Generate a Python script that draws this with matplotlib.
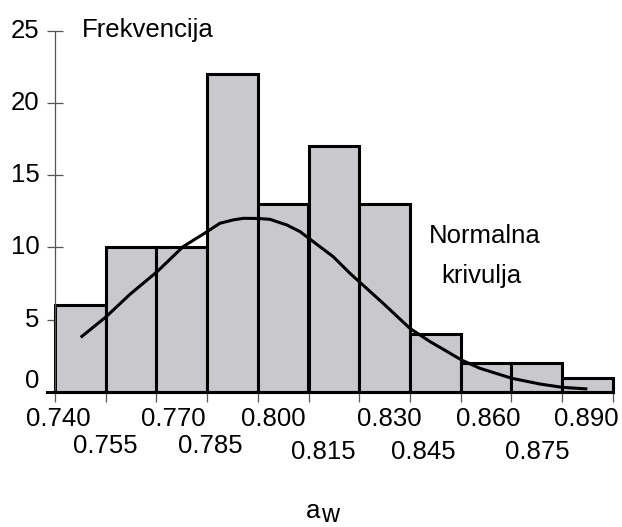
import matplotlib
matplotlib.use("Agg")
import matplotlib.pyplot as plt
import numpy as np

# ---- data ----
bin_edges = [0.740, 0.755, 0.770, 0.785, 0.800, 0.815, 0.830,
             0.845, 0.860, 0.875, 0.890, 0.905]
frequency = [6, 10, 10, 22, 13, 17, 13, 4, 2, 2, 1]

upper_labels = ["0.740", "0.770", "0.800", "0.830", "0.860", "0.890"]
lower_labels = ["0.755", "0.785", "0.815", "0.845", "0.875"]

y_ticks = [0, 5, 10, 15, 20, 25]
y_tick_labels = ["0", "5", "10", "15", "20", "25"]

curve_x = [0.7476, 0.7551, 0.7622, 0.7702, 0.7779, 0.7850, 0.7888, 0.7927,
           0.7957, 0.8002, 0.8036, 0.8086, 0.8125, 0.8164, 0.8223, 0.8273,
           0.8300, 0.8371, 0.8450, 0.8510, 0.8603, 0.8657, 0.8751, 0.8835,
           0.8902, 0.8975]
curve_y = [3.78, 5.2, 6.76, 8.32, 10.05, 11.09, 11.67, 11.9,
           12.01, 12.0, 11.94, 11.55, 11.09, 10.4, 9.36, 8.2,
           7.63, 6.13, 4.4, 3.48, 2.21, 1.64, 0.95, 0.55,
           0.32, 0.21]

# ---- style / layout ----
FONT = "Liberation Sans"
plt.rcParams["font.family"] = [FONT, "DejaVu Sans"]
FS = 18.5
W, H = 622, 527
fig = plt.figure(figsize=(W / 100, H / 100), dpi=100)

left_px, right_px = 47, 620
bottom_px, top_px = 392, 30.5
ax = fig.add_axes([left_px / W, 1 - bottom_px / H,
                   (right_px - left_px) / W, (bottom_px - top_px) / H])

px_per_bin = 50.7
x0 = bin_edges[0] - (55 - left_px) / px_per_bin * 0.015
x1 = bin_edges[0] + (right_px - 55) / px_per_bin * 0.015
ax.set_xlim(x0, x1)
ax.set_ylim(0, 25)

lefts = bin_edges[:-1]
widths = np.diff(bin_edges)
ax.bar(lefts, frequency, width=widths, align="edge", color="#c9c9cd",
       edgecolor="black", linewidth=2.2, zorder=2, clip_on=False)

ax.plot(curve_x, curve_y, color="black", linewidth=2.2, zorder=3,
        solid_capstyle="butt")

# spines
for s in ["top", "right"]:
    ax.spines[s].set_visible(False)
ax.spines["left"].set_position(("data", bin_edges[0]))
ax.spines["left"].set_color("#555555")
ax.spines["left"].set_linewidth(0.9)
ax.spines["bottom"].set_color("black")
ax.spines["bottom"].set_linewidth(2.2)
ax.spines["bottom"].set_bounds(x0, bin_edges[-1])
ax.spines["bottom"].set_zorder(4)

ax.set_xticks(bin_edges)
ax.set_xticklabels([])
ax.tick_params(axis="x", direction="out", length=7.2, width=0.9,
               color="#555555")
ax.set_yticks(y_ticks)
ax.set_yticklabels([])
ax.tick_params(axis="y", direction="inout", length=11.5, width=0.9,
               color="#555555")

PT = 0.72  # px -> pt
# y tick labels
y_offsets_px = [10.5, 0, 0, 0, 0, 0]
for val, lab, dy in zip(y_ticks, y_tick_labels, y_offsets_px):
    ax.annotate(lab, xy=(bin_edges[0], val), xycoords="data",
                xytext=(-15.5 * PT, dy * PT), textcoords="offset points",
                ha="right", va="center", fontsize=FS)

# x tick labels (staggered as in the original)
upper_vals = [float(v) for v in upper_labels]
upper_dx = [3, 17, 16, 30, 28, 24]
for val, lab, dx in zip(upper_vals, upper_labels, upper_dx):
    ax.annotate(lab, xy=(val, 0), xycoords="data",
                xytext=(dx * PT, -27 * PT), textcoords="offset points",
                ha="center", va="center", fontsize=FS)
lower_vals = [float(v) for v in lower_labels]
lower_dx = [0, 3, 15, 13, 26]
lower_dy = [54, 54, 60, 60, 60]
for val, lab, dx, dy in zip(lower_vals, lower_labels, lower_dx, lower_dy):
    ax.annotate(lab, xy=(val, 0), xycoords="data",
                xytext=(dx * PT, -dy * PT), textcoords="offset points",
                ha="center", va="center", fontsize=FS)

# texts
fig.text(82 / W, 1 - 37 / H, "Frekvencija", fontsize=FS, ha="left",
         va="baseline")
fig.text(429 / W, 1 - 243 / H, "Normalna", fontsize=FS, ha="left",
         va="baseline")
fig.text(441 / W, 1 - 283 / H, "krivulja", fontsize=FS, ha="left",
         va="baseline")
fig.text(306 / W, 1 - 518 / H, "a", fontsize=18.5, ha="left", va="baseline")
fig.text(321 / W, 1 - 521.5 / H, "w", fontsize=18, ha="left",
         va="baseline")

fig.savefig("out.png", dpi=100)
